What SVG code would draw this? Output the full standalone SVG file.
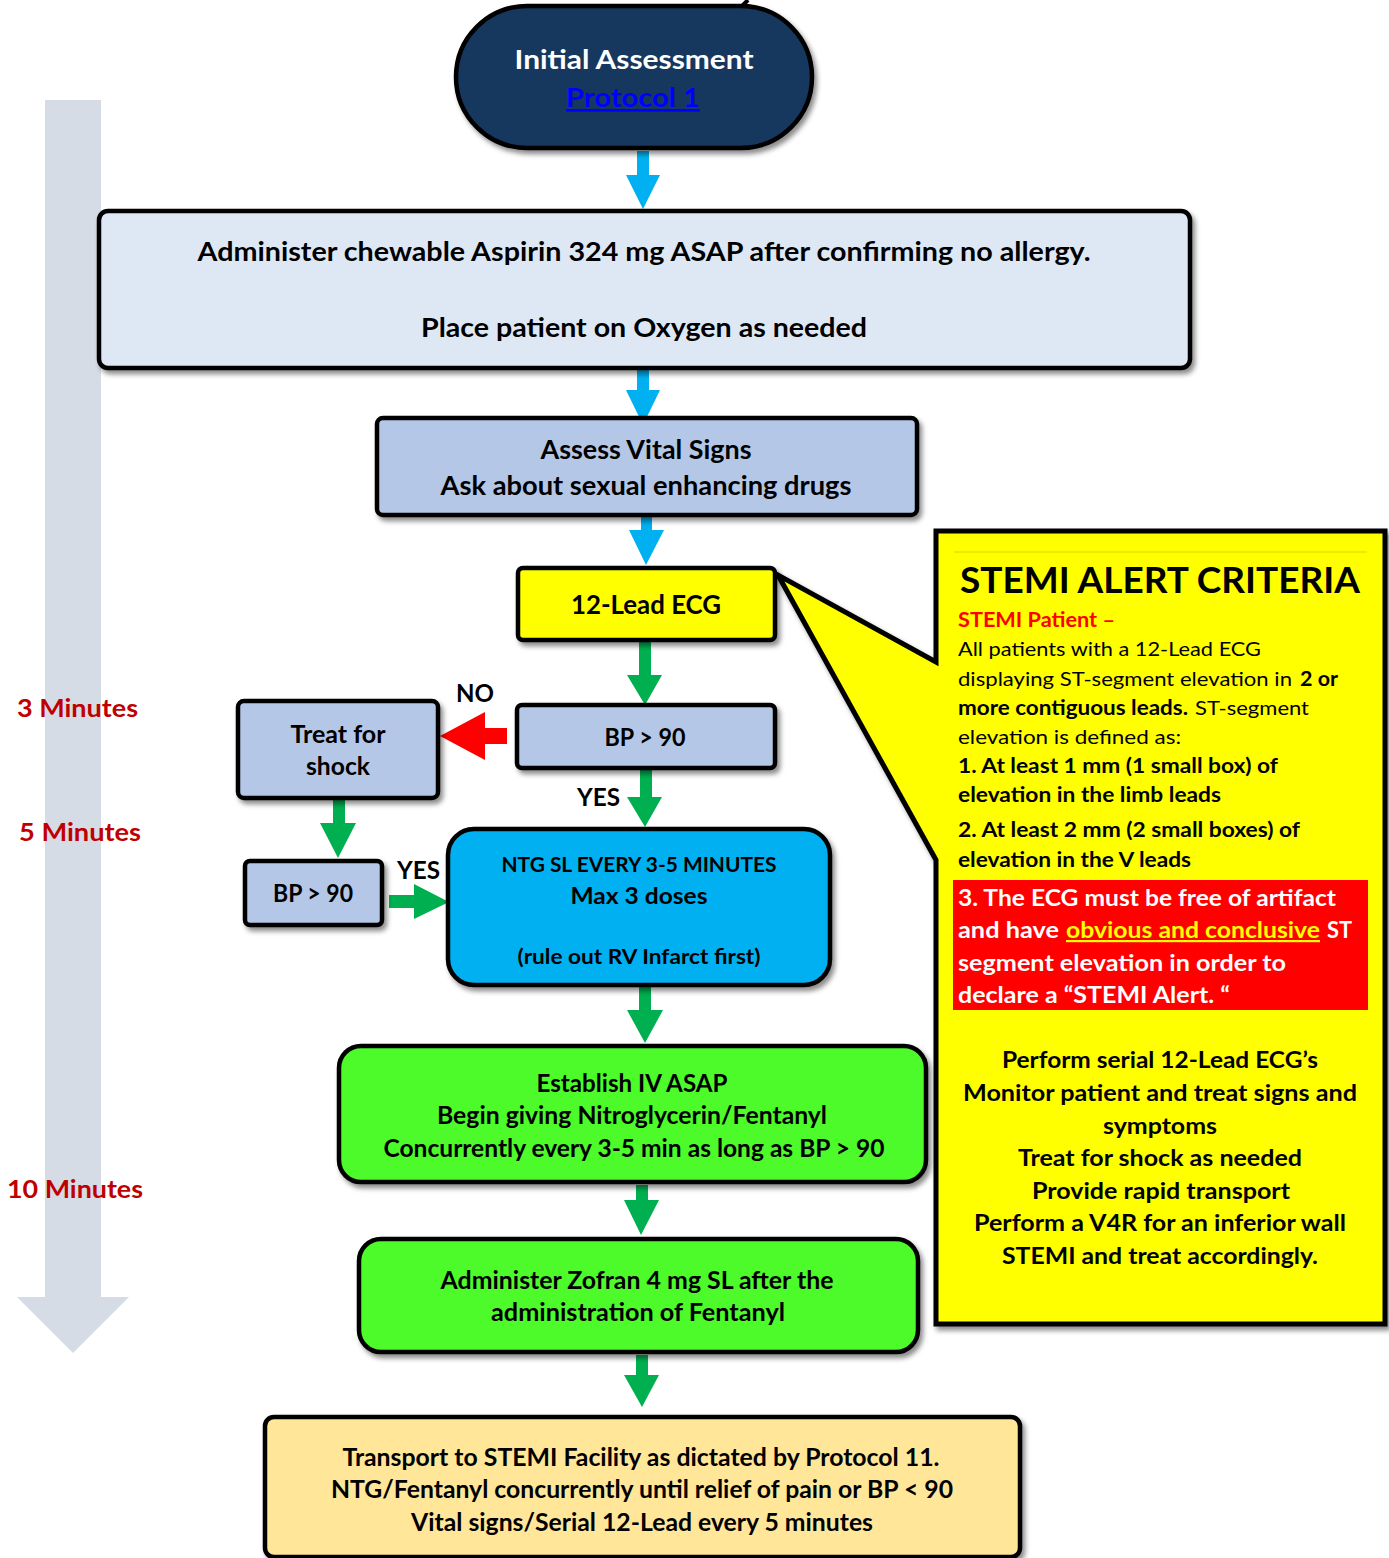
<svg xmlns="http://www.w3.org/2000/svg" width="1389" height="1558" viewBox="0 0 1389 1558">
<style>
text{font-family:Lato,"Open Sans","Liberation Sans",sans-serif;font-weight:700;fill:#000}
.c{text-anchor:middle}
.reg{font-weight:400}
.box{stroke:#000;stroke-width:4.5;filter:url(#sh)}
.min{fill:#c00000;font-size:25px}
.ga{fill:#00b050}
.ba{fill:#00b0f0}
.wt{fill:#fff}
</style>
<defs>
<filter id="sh" x="-5%" y="-5%" width="115%" height="125%">
<feDropShadow dx="3" dy="4" stdDeviation="2.5" flood-color="#000" flood-opacity="0.45"/>
</filter>
</defs>

<g id="timeline">
<path d="M45,100 H101 V1297 H129 L73,1353 L17,1297 H45 Z" fill="#d6dce5"/>
<text class="min" x="17" y="717" textLength="121" lengthAdjust="spacingAndGlyphs">3 Minutes</text>
<text class="min" x="19" y="841" textLength="122" lengthAdjust="spacingAndGlyphs">5 Minutes</text>
<text class="min" x="7" y="1198" textLength="136" lengthAdjust="spacingAndGlyphs">10 Minutes</text>
</g>

<g id="connectors">
<path d="M748,0 L741,7" stroke="#000" stroke-width="4" fill="none"/>
<path class="ba" d="M637,151 H649 V175 H660 L643,209 L626,175 H637 Z"/>
<path class="ba" d="M637,368 H649 V390 H660 L643,425 L626,390 H637 Z"/>
<path class="ba" d="M641,515 H652 V530 H664 L646,565 L629,530 H641 Z"/>
<path class="ga" d="M639,640 H651 V675 H662 L645,705 L627,675 H639 Z"/>
<path class="ga" d="M640,768 H652 V797 H662 L645,827 L627,797 H640 Z"/>
<path d="M507,728 H485 V712 L440,736 L485,760 V744 H507 Z" fill="#ff0000"/>
<path class="ga" d="M333,798 H345 V823 H356 L338,858 L320,823 H333 Z"/>
<path class="ga" d="M389,895 H414 V884 L449,902 L414,919 V908 H389 Z"/>
<path class="ga" d="M639,985 H651 V1010 H663 L645,1043 L627,1010 H639 Z"/>
<path class="ga" d="M636,1185 H648 V1200 H659 L641,1235 L624,1200 H636 Z"/>
<path class="ga" d="M636,1355 H648 V1375 H659 L642,1407 L624,1375 H636 Z"/>
<text x="456" y="702" font-size="25" textLength="38" lengthAdjust="spacingAndGlyphs">NO</text>
<text x="577" y="806" font-size="25" textLength="43" lengthAdjust="spacingAndGlyphs">YES</text>
<text x="397" y="879" font-size="25" textLength="43" lengthAdjust="spacingAndGlyphs">YES</text>
</g>

<g id="initial">
<rect class="box" x="456" y="6" width="356" height="142" rx="71" fill="#17375e"/>
<text class="c wt" x="634" y="69" font-size="27" textLength="239" lengthAdjust="spacingAndGlyphs">Initial Assessment</text>
<text class="c" x="633" y="107" font-size="27" fill="#0000ff" style="fill:#0000ff" text-decoration="underline" textLength="134" lengthAdjust="spacingAndGlyphs">Protocol 1</text>
</g>

<g id="aspirin">
<rect class="box" x="99" y="211" width="1091" height="157" rx="9" fill="#dee8f5"/>
<text class="c" x="644" y="261" font-size="26" textLength="893" lengthAdjust="spacingAndGlyphs">Administer chewable Aspirin 324 mg ASAP after confirming no allergy.</text>
<text class="c" x="644" y="337" font-size="26" textLength="446" lengthAdjust="spacingAndGlyphs">Place patient on Oxygen as needed</text>
</g>

<g id="vitals">
<rect class="box" x="377" y="418" width="540" height="97" rx="6" fill="#b4c7e7"/>
<text class="c" x="646" y="459" font-size="26" textLength="211" lengthAdjust="spacingAndGlyphs">Assess Vital Signs</text>
<text class="c" x="646" y="495" font-size="26" textLength="411" lengthAdjust="spacingAndGlyphs">Ask about sexual enhancing drugs</text>
</g>

<g id="callout">
<path d="M936,531 H1385 V1324 H936 V860 L778,575 L936,662 Z" fill="#ffff00" stroke="#000" stroke-width="5" stroke-linejoin="miter" filter="url(#sh)"/>
<line x1="954" y1="552" x2="1367" y2="552" stroke="#d8d800" stroke-width="1"/>
<rect x="953" y="880" width="415" height="130" fill="#ff0000"/>
<text x="960" y="593" font-size="36" textLength="400" lengthAdjust="spacingAndGlyphs">STEMI ALERT CRITERIA</text>
<text x="958" y="627" font-size="20" style="fill:#ff0000" textLength="157" lengthAdjust="spacingAndGlyphs">STEMI Patient –</text>
<text class="reg" x="958" y="656" font-size="20" textLength="303" lengthAdjust="spacingAndGlyphs">All patients with a 12-Lead ECG</text>
<text class="reg" x="958" y="686" font-size="20" textLength="334" lengthAdjust="spacingAndGlyphs">displaying ST-segment elevation in</text>
<text x="1300" y="686" font-size="20" textLength="38" lengthAdjust="spacingAndGlyphs">2 or</text>
<text x="958" y="715" font-size="20" textLength="230" lengthAdjust="spacingAndGlyphs">more contiguous leads.</text>
<text class="reg" x="1195" y="715" font-size="20" textLength="114" lengthAdjust="spacingAndGlyphs">ST-segment</text>
<text class="reg" x="958" y="744" font-size="20" textLength="223" lengthAdjust="spacingAndGlyphs">elevation is defined as:</text>
<text x="958" y="773" font-size="20" textLength="320" lengthAdjust="spacingAndGlyphs">1. At least 1 mm (1 small box) of</text>
<text x="958" y="802" font-size="20" textLength="263" lengthAdjust="spacingAndGlyphs">elevation in the limb leads</text>
<text x="958" y="837" font-size="20" textLength="342" lengthAdjust="spacingAndGlyphs">2. At least 2 mm (2 small boxes) of</text>
<text x="958" y="867" font-size="20" textLength="233" lengthAdjust="spacingAndGlyphs">elevation in the V leads</text>
<text class="wt" x="958" y="906" font-size="22" textLength="378" lengthAdjust="spacingAndGlyphs">3. The ECG must be free of artifact</text>
<text class="wt" x="958" y="938" font-size="22" textLength="101" lengthAdjust="spacingAndGlyphs">and have</text>
<text x="1066" y="938" font-size="22" style="fill:#ffff00" text-decoration="underline" textLength="254" lengthAdjust="spacingAndGlyphs">obvious and conclusive</text>
<text class="wt" x="1327" y="938" font-size="22" textLength="25" lengthAdjust="spacingAndGlyphs">ST</text>
<text class="wt" x="958" y="971" font-size="22" textLength="328" lengthAdjust="spacingAndGlyphs">segment elevation in order to</text>
<text class="wt" x="958" y="1003" font-size="22" textLength="272" lengthAdjust="spacingAndGlyphs">declare a “STEMI Alert. “</text>
<text class="c" x="1160" y="1068" font-size="22" textLength="316" lengthAdjust="spacingAndGlyphs">Perform serial 12-Lead ECG’s</text>
<text class="c" x="1160" y="1101" font-size="22" textLength="394" lengthAdjust="spacingAndGlyphs">Monitor patient and treat signs and</text>
<text class="c" x="1160" y="1134" font-size="22" textLength="114" lengthAdjust="spacingAndGlyphs">symptoms</text>
<text class="c" x="1160" y="1166" font-size="22" textLength="284" lengthAdjust="spacingAndGlyphs">Treat for shock as needed</text>
<text class="c" x="1161" y="1199" font-size="22" textLength="258" lengthAdjust="spacingAndGlyphs">Provide rapid transport</text>
<text class="c" x="1160" y="1231" font-size="22" textLength="372" lengthAdjust="spacingAndGlyphs">Perform a V4R for an inferior wall</text>
<text class="c" x="1160" y="1264" font-size="22" textLength="316" lengthAdjust="spacingAndGlyphs">STEMI and treat accordingly.</text>
</g>

<g id="ecg">
<rect class="box" x="518" y="568" width="257" height="72" rx="5" fill="#ffff00"/>
<text class="c" x="646" y="614" font-size="26" textLength="150" lengthAdjust="spacingAndGlyphs">12-Lead ECG</text>
</g>

<g id="bp1">
<rect class="box" x="517" y="705" width="258" height="63" rx="5" fill="#b4c7e7"/>
<text class="c" x="645" y="746" font-size="24" textLength="81" lengthAdjust="spacingAndGlyphs">BP &gt; 90</text>
</g>

<g id="shock">
<rect class="box" x="238" y="701" width="200" height="97" rx="6" fill="#b4c7e7"/>
<text class="c" x="338" y="743" font-size="24" textLength="95" lengthAdjust="spacingAndGlyphs">Treat for</text>
<text class="c" x="338" y="775" font-size="24" textLength="64" lengthAdjust="spacingAndGlyphs">shock</text>
</g>

<g id="bp2">
<rect class="box" x="245" y="861" width="137" height="64" rx="5" fill="#b4c7e7"/>
<text class="c" x="313" y="902" font-size="24" textLength="80" lengthAdjust="spacingAndGlyphs">BP &gt; 90</text>
</g>

<g id="ntg">
<rect class="box" x="448" y="829" width="382" height="156" rx="26" fill="#00b0f0"/>
<text class="c" x="639" y="872" font-size="21" textLength="275" lengthAdjust="spacingAndGlyphs">NTG SL EVERY 3-5 MINUTES</text>
<text class="c" x="639" y="904" font-size="23" textLength="137" lengthAdjust="spacingAndGlyphs">Max 3 doses</text>
<text class="c" x="639" y="964" font-size="21" textLength="243" lengthAdjust="spacingAndGlyphs">(rule out RV Infarct first)</text>
</g>

<g id="iv">
<rect class="box" x="339" y="1046" width="587" height="136" rx="22" fill="#4dfa2b"/>
<text class="c" x="632" y="1092" font-size="24" textLength="191" lengthAdjust="spacingAndGlyphs">Establish IV ASAP</text>
<text class="c" x="632" y="1124" font-size="24" textLength="390" lengthAdjust="spacingAndGlyphs">Begin giving Nitroglycerin/Fentanyl</text>
<text class="c" x="634" y="1157" font-size="24" textLength="501" lengthAdjust="spacingAndGlyphs">Concurrently every 3-5 min as long as BP &gt; 90</text>
</g>

<g id="zofran">
<rect class="box" x="359" y="1239" width="559" height="113" rx="22" fill="#4dfa2b"/>
<text class="c" x="637" y="1289" font-size="24" textLength="393" lengthAdjust="spacingAndGlyphs">Administer Zofran 4 mg SL after the</text>
<text class="c" x="638" y="1321" font-size="24" textLength="294" lengthAdjust="spacingAndGlyphs">administration of Fentanyl</text>
</g>

<g id="transport">
<rect class="box" x="265" y="1417" width="755" height="140" rx="9" fill="#ffe699"/>
<text class="c" x="641" y="1466" font-size="24" textLength="597" lengthAdjust="spacingAndGlyphs">Transport to STEMI Facility as dictated by Protocol 11.</text>
<text class="c" x="642" y="1498" font-size="24" textLength="622" lengthAdjust="spacingAndGlyphs">NTG/Fentanyl concurrently until relief of pain or BP &lt; 90</text>
<text class="c" x="642" y="1531" font-size="24" textLength="462" lengthAdjust="spacingAndGlyphs">Vital signs/Serial 12-Lead every 5 minutes</text>
</g>
</svg>
